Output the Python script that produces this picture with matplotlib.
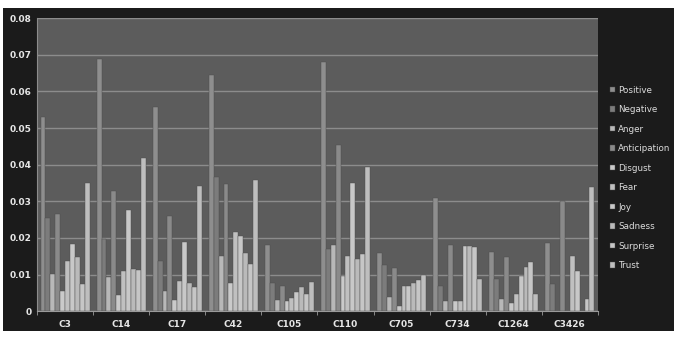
import numpy as np
import matplotlib
matplotlib.use("Agg")
import matplotlib.pyplot as plt
from matplotlib.patches import Rectangle

# categories and emotion series
chapters = ["C3", "C14", "C17", "C42", "C105", "C110", "C705", "C734", "C1264", "C3426"]
emotions = ["Positive", "Negative", "Anger", "Anticipation", "Disgust",
            "Fear", "Joy", "Sadness", "Surprise", "Trust"]

positive     = [0.0530, 0.0688, 0.0558, 0.0645, 0.0180, 0.0680, 0.0159, 0.0308, 0.0161, 0.0187]
negative     = [0.0255, 0.0197, 0.0138, 0.0367, 0.0078, 0.0171, 0.0126, 0.0068, 0.0087, 0.0073]
anger        = [0.0102, 0.0094, 0.0055, 0.0150, 0.0030, 0.0180, 0.0038, 0.0029, 0.0034, 0.0000]
anticipation = [0.0265, 0.0328, 0.0260, 0.0346, 0.0068, 0.0454, 0.0117, 0.0180, 0.0147, 0.0300]
disgust      = [0.0055, 0.0044, 0.0030, 0.0078, 0.0028, 0.0097, 0.0015, 0.0028, 0.0022, 0.0000]
fear         = [0.0138, 0.0110, 0.0083, 0.0217, 0.0037, 0.0151, 0.0068, 0.0028, 0.0046, 0.0150]
joy          = [0.0183, 0.0277, 0.0188, 0.0206, 0.0053, 0.0349, 0.0068, 0.0177, 0.0097, 0.0110]
sadness      = [0.0149, 0.0115, 0.0078, 0.0159, 0.0067, 0.0143, 0.0077, 0.0177, 0.0122, 0.0000]
surprise     = [0.0073, 0.0113, 0.0067, 0.0128, 0.0048, 0.0156, 0.0085, 0.0175, 0.0133, 0.0034]
trust        = [0.0350, 0.0417, 0.0342, 0.0358, 0.0081, 0.0394, 0.0099, 0.0087, 0.0046, 0.0340]

series = [positive, negative, anger, anticipation, disgust,
          fear, joy, sadness, surprise, trust]

# grey shades, the screenshot is monochrome
colors = ["#8e8e8e", "#7c7c7c", "#b8b8b8", "#8a8a8a", "#cacaca",
          "#c0c0c0", "#c8c8c8", "#bababa", "#c6c6c6", "#bebebe"]

fig = plt.figure(figsize=(6.74, 3.42), dpi=100)
fig.patch.set_facecolor("white")
# dark chart area behind everything
fig.patches.append(Rectangle((0.005, 0.032), 0.995, 0.945, transform=fig.transFigure,
                             facecolor="#1b1b1b", edgecolor="none", zorder=-10))

ax = fig.add_axes([0.055, 0.09, 0.832, 0.857])
ax.set_facecolor("#5c5c5c")

x = np.arange(len(chapters))
n = len(series)
w = 0.875 / n
for i, (vals, name) in enumerate(zip(series, emotions)):
    ax.bar(x - 0.4375 + w * (i + 0.5), vals, width=w, color=colors[i],
           edgecolor="#4a4a4a", linewidth=0.3, label=name, zorder=3)

ax.set_xlim(-0.5, len(chapters) - 0.5)
ax.set_ylim(0, 0.08)
ax.set_yticks(np.arange(0, 0.081, 0.01))
ax.set_yticklabels(["0"] + ["%.2f" % v for v in np.arange(0.01, 0.081, 0.01)])
ax.yaxis.grid(True, color="#8c8c8c", linewidth=1.0, zorder=1)
ax.set_axisbelow(True)

ax.set_xticks(x)
ax.set_xticklabels(chapters)
ax.set_xticks(np.arange(-0.5, len(chapters)), minor=True)
ax.tick_params(axis="x", which="major", length=0, pad=6)
ax.tick_params(axis="x", which="minor", length=3, color="#9a9a9a")
ax.tick_params(axis="y", length=0, pad=4)
for lab in ax.get_xticklabels() + ax.get_yticklabels():
    lab.set_color("#e6e6e6")
    lab.set_fontsize(6.5)
    lab.set_fontweight("bold")

for side in ["top", "right"]:
    ax.spines[side].set_visible(False)
ax.spines["left"].set_color("#8c8c8c")
ax.spines["bottom"].set_color("#9a9a9a")

leg = fig.legend(loc="center left", bbox_to_anchor=(0.898, 0.48), frameon=False,
                 fontsize=6.3, labelspacing=1.2, handlelength=0.6, handleheight=0.6,
                 handletextpad=0.4, borderpad=0)
for t in leg.get_texts():
    t.set_color("#dcdcdc")

fig.savefig("out.png", dpi=100, facecolor=fig.get_facecolor())
